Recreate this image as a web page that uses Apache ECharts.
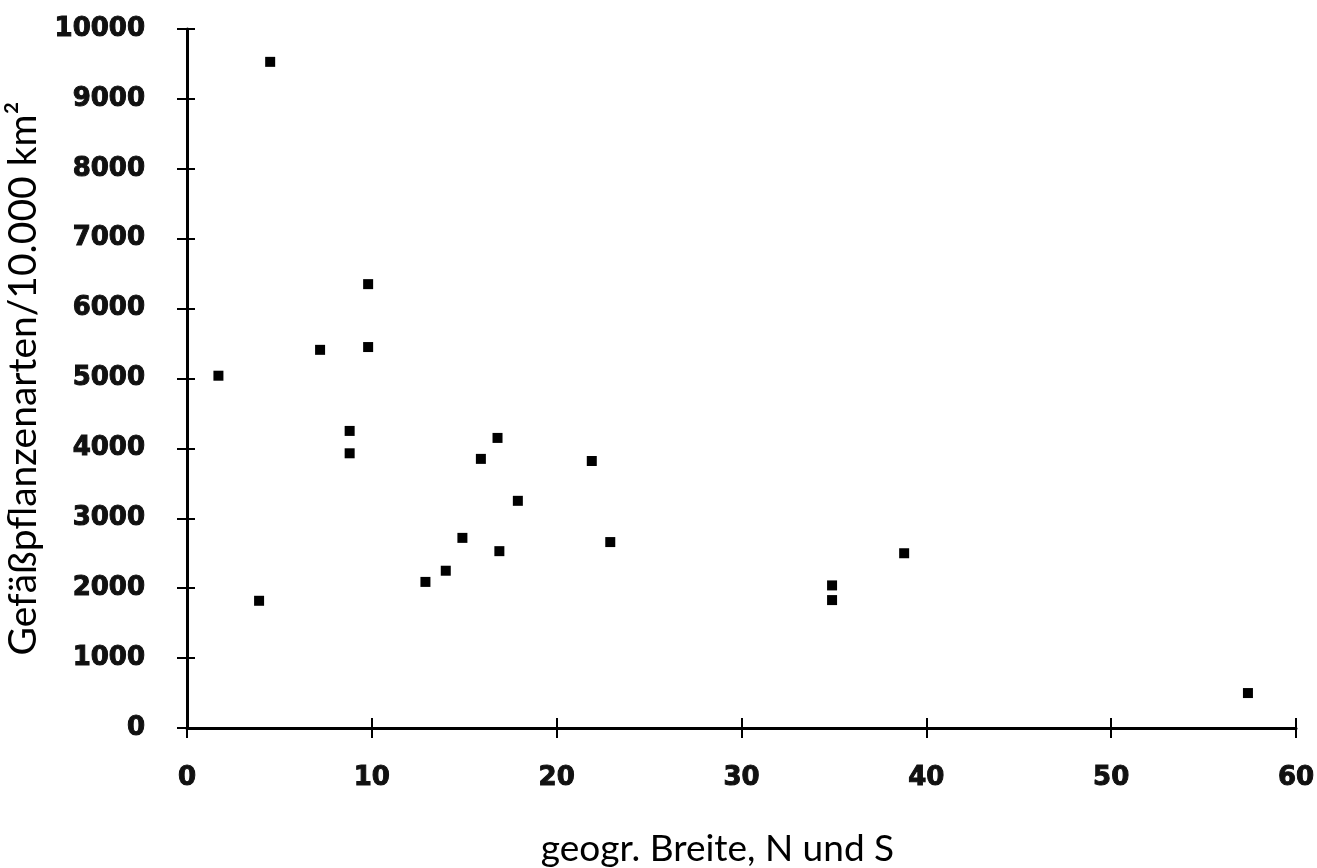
<!DOCTYPE html>
<html>
<head>
<meta charset="utf-8">
<script src="https://cdn.jsdelivr.net/npm/echarts@6/dist/echarts.min.js"></script>
<style>html,body{margin:0;padding:0;background:#fff}#c{width:1317px;height:868px}</style>
</head>
<body>
<div id="c"></div>
<script>
const latitude = [1.7, 4.5, 3.9, 7.2, 9.8, 9.8, 8.8, 8.8, 12.9, 14.0, 14.9, 15.9, 16.8, 16.9, 17.9, 21.9, 22.9, 34.9, 34.9, 38.8, 57.4];
const species = [5040, 9530, 1820, 5410, 6350, 5450, 4250, 3930, 2090, 2250, 2720, 3850, 4150, 2530, 3250, 3820, 2660, 2040, 1830, 2500, 500];
const xTitle = 'geogr. Breite, N und S';
const yTitle = 'Gefäßpflanzenarten/10.000 km²';

const points = latitude.map((x, i) => [x, species[i]]);
const chart = echarts.init(document.getElementById('c'), null, {renderer: 'canvas'});
const labelFont = {color: '#111', fontFamily: 'DejaVu Sans', fontWeight: 'bold', fontSize: 26,
  textBorderColor: '#111', textBorderWidth: 1, formatter: v => String(v)};
chart.setOption({
  animation: false,
  backgroundColor: '#fff',
  grid: {left: 187, right: 21, top: 29, bottom: 140, outerBoundsMode: 'none', containLabel: false},
  xAxis: [{
    type: 'value', min: 0, max: 60, interval: 10,
    axisLine: {show: true, onZero: false, lineStyle: {color: '#000', width: 3}},
    axisTick: {show: true, length: 10, lineStyle: {color: '#000', width: 2}},
    axisLabel: Object.assign({margin: 37}, labelFont),
    splitLine: {show: false},
    name: xTitle, nameLocation: 'middle', nameGap: 103,
    nameTextStyle: {fontFamily: 'Lato', fontSize: 37, color: '#000', padding: [0, 48, 0, 0]}
  }, {
    type: 'value', min: 0, max: 60, interval: 10, position: 'bottom',
    axisLine: {show: false}, axisLabel: {show: false}, splitLine: {show: false},
    axisTick: {show: true, inside: true, length: 10, lineStyle: {color: '#000', width: 2}}
  }],
  yAxis: [{
    type: 'value', min: 0, max: 10000, interval: 1000,
    axisLine: {show: true, onZero: false, lineStyle: {color: '#000', width: 3}},
    axisTick: {show: true, length: 10, lineStyle: {color: '#000', width: 2}},
    axisLabel: Object.assign({margin: 42}, labelFont),
    splitLine: {show: false},
    name: yTitle, nameLocation: 'middle', nameGap: 121, nameRotate: 90,
    nameTextStyle: {fontFamily: 'Lato', fontSize: 39, color: '#000'}
  }, {
    type: 'value', min: 0, max: 10000, interval: 1000, position: 'left',
    axisLine: {show: false}, axisLabel: {show: false}, splitLine: {show: false},
    axisTick: {show: true, inside: true, length: 8, lineStyle: {color: '#000', width: 2}}
  }],
  series: [{
    type: 'scatter', data: points, symbol: 'rect', symbolSize: 10,
    itemStyle: {color: '#000', opacity: 1}
  }]
});
</script>
</body>
</html>
